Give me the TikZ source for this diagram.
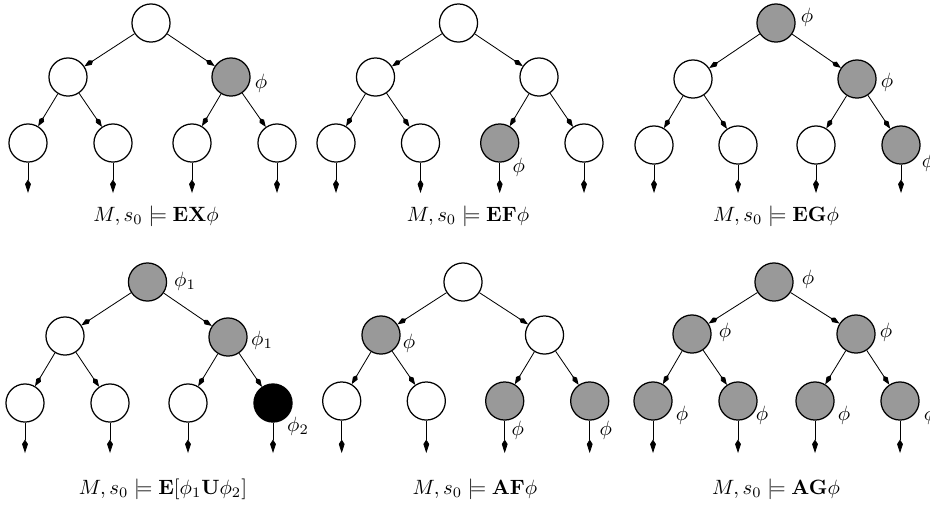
\documentclass[tikz,border=0pt]{standalone}
\usepackage{amsmath,amssymb}
\usetikzlibrary{arrows.meta}
\definecolor{fillg}{gray}{0.6}
\tikzset{
 st/.style={circle,draw,line width=0.6pt,minimum size=18.4pt,inner sep=0pt,fill=white},
 on/.style={st,fill=fillg},
 blk/.style={st,fill=black},
 edge/.style={line width=0.4pt,-{Kite[length=5pt,width=2.6pt,inset=1.7pt]}},
 down/.style={line width=0.4pt,-{Kite[length=6.5pt,width=2.8pt,inset=2.2pt]}},
 lbl/.style={inner sep=0pt},
 captxt/.style={inner sep=0pt},
}
\newcommand\treeedges[2]{%
 \draw[edge] (#1r) -- (#1a);
 \draw[edge] (#1r) -- (#1b);
 \draw[edge] (#1a) -- (#1c);
 \draw[edge] (#1a) -- (#1d);
 \draw[edge] (#1b) -- (#1e);
 \draw[edge] (#1b) -- (#1f);
 \foreach \n in {c,d,e,f}{%
   \coordinate (#1\n-t) at ([shift={(0,#2)}]#1\n.center);
   \draw[down] (#1\n) -- (#1\n-t);}%
}
\begin{document}
\begin{tikzpicture}[x=0.483pt,y=-0.483pt]
\useasboundingbox (0,0) rectangle (930,514);
% ---- EX ----
\node[st] (Ar) at (151,23) {};
\node[st] (Aa) at (68,77) {};
\node[on] (Ab) at (231,77) {};
\node[st] (Ac) at (28,143) {};
\node[st] (Ad) at (113,143) {};
\node[st] (Ae) at (192,143) {};
\node[st] (Af) at (277,143) {};
\treeedges{A}{50}
\node[lbl] (Al1) at ([shift={(30,6)}]Ab.center) {$\phi$};
\node[captxt] (Acap) at (156,216) {$M, s_0 \models \mathbf{EX}\phi$};
% ---- EF ----
\node[st] (Br) at (458.5,23) {};
\node[st] (Ba) at (375.5,77) {};
\node[st] (Bb) at (539,77) {};
\node[st] (Bc) at (336,143) {};
\node[st] (Bd) at (420.5,143) {};
\node[on] (Be) at (499.7,143) {};
\node[st] (Bf) at (584,143) {};
\treeedges{B}{50}
\node[lbl] (Bl1) at ([shift={(19,24)}]Be.center) {$\phi$};
\node[captxt] (Bcap) at (468,216) {$M, s_0 \models \mathbf{EF}\phi$};
% ---- EG ----
\node[on] (Cr) at (776,23) {};
\node[st] (Ca) at (693,79) {};
\node[on] (Cb) at (857,79) {};
\node[st] (Cc) at (654,145) {};
\node[st] (Cd) at (738,145) {};
\node[st] (Ce) at (816,145) {};
\node[on] (Cf) at (901,145) {};
\treeedges{C}{48}
\node[lbl] (Cl1) at ([shift={(31,-6)}]Cr.center) {$\phi$};
\node[lbl] (Cl2) at ([shift={(30,3)}]Cb.center) {$\phi$};
\node[lbl] (Cl3) at ([shift={(27,17)}]Cf.center) {$\phi$};
\node[captxt] (Ccap) at (776,216) {$M, s_0 \models \mathbf{EG}\phi$};
% ---- EU ----
\node[on] (Dr) at (147.5,282) {};
\node[st] (Da) at (65,336) {};
\node[on] (Db) at (228,337) {};
\node[st] (Dc) at (25,403) {};
\node[st] (Dd) at (110,403) {};
\node[st] (De) at (188,403) {};
\node[blk] (Df) at (273,403) {};
\treeedges{D}{50}
\node[lbl] (Dl1) at ([shift={(37.5,-1)}]Dr.center) {$\phi_1$};
\node[lbl] (Dl2) at ([shift={(34,3)}]Db.center) {$\phi_1$};
\node[lbl] (Dl3) at ([shift={(25,23)}]Df.center) {$\phi_2$};
\node[captxt] (Dcap) at (163,489) {$M, s_0 \models \mathbf{E}[\phi_1\mathbf{U}\phi_2]$};
% ---- AF ----
\node[st] (Er) at (463,282) {};
\node[on] (Ea) at (381,335) {};
\node[st] (Eb) at (544.5,335) {};
\node[st] (Ec) at (341.7,401) {};
\node[st] (Ed) at (426.3,401) {};
\node[on] (Ee) at (504.7,401) {};
\node[on] (Ef) at (589.7,401) {};
\treeedges{E}{52}
\node[lbl] (El1) at ([shift={(28,8)}]Ea.center) {$\phi$};
\node[lbl] (El2) at ([shift={(13,29)}]Ee.center) {$\phi$};
\node[lbl] (El3) at ([shift={(16,29)}]Ef.center) {$\phi$};
\node[captxt] (Ecap) at (475,489) {$M, s_0 \models \mathbf{AF}\phi$};
% ---- AG ----
\node[on] (Fr) at (774,282) {};
\node[on] (Fa) at (692,334) {};
\node[on] (Fb) at (856,334) {};
\node[on] (Fc) at (653,401) {};
\node[on] (Fd) at (738,401) {};
\node[on] (Fe) at (815,401) {};
\node[on] (Ff) at (900,401) {};
\treeedges{F}{52}
\node[lbl] (Fl1) at ([shift={(34,-3)}]Fr.center) {$\phi$};
\node[lbl] (Fl2) at ([shift={(33,-2)}]Fa.center) {$\phi$};
\node[lbl] (Fl3) at ([shift={(30,-2)}]Fb.center) {$\phi$};
\node[lbl] (Fl4) at ([shift={(29,14)}]Fc.center) {$\phi$};
\node[lbl] (Fl5) at ([shift={(24,14)}]Fd.center) {$\phi$};
\node[lbl] (Fl6) at ([shift={(29,14)}]Fe.center) {$\phi$};
\node[lbl] (Fl7) at ([shift={(30,14)}]Ff.center) {$\phi$};
\node[captxt] (Fcap) at (776,489) {$M, s_0 \models \mathbf{AG}\phi$};
\end{tikzpicture}
\end{document}
